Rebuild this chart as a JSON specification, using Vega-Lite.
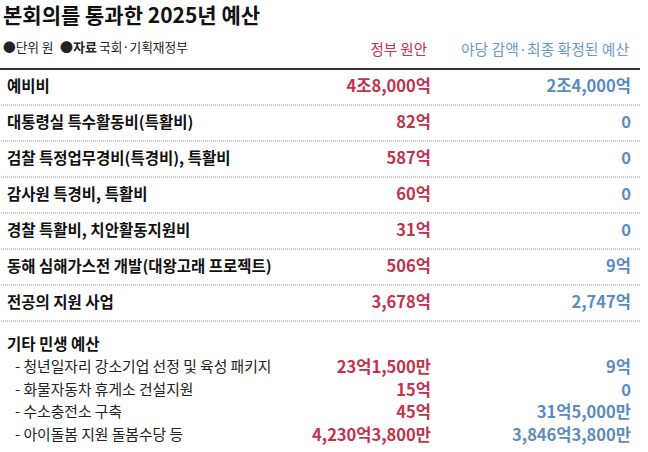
{
  "$schema": "https://vega.github.io/schema/vega-lite/v6.json",
  "width": 640,
  "height": 422,
  "autosize": "none",
  "padding": {"left": 0, "top": 30, "right": 8, "bottom": 0},
  "background": "#ffffff",
  "config": {"view": {"stroke": null}, "font": "Noto Sans CJK KR", "text": {"font": "Noto Sans CJK KR"}},
  "title": {"text": "본회의를 통과한 2025년 예산", "anchor": "start", "fontSize": 21, "font": "Noto Sans CJK KR", "fontWeight": "bold", "color": "#111111", "offset": 3, "dx": 4},
  "layer": [
    {
      "data": {"values": [
        {"item": "header", "gov": "정부 원안", "opp": "야당 감액·최종 확정된 예산", "unit": "●단위  원", "srcLabel": "●자료", "src": "국회·기획재정부"},
        {"item": "예비비", "gov": "4조8,000억", "opp": "2조4,000억"},
        {"item": "대통령실 특수활동비(특활비)", "gov": "82억", "opp": "0"},
        {"item": "검찰 특정업무경비(특경비), 특활비", "gov": "587억", "opp": "0"},
        {"item": "감사원 특경비, 특활비", "gov": "60억", "opp": "0"},
        {"item": "경찰 특활비, 치안활동지원비", "gov": "31억", "opp": "0"},
        {"item": "동해 심해가스전 개발(대왕고래 프로젝트)", "gov": "506억", "opp": "9억"},
        {"item": "전공의 지원 사업", "gov": "3,678억", "opp": "2,747억"}
      ]},
      "encoding": {
        "y": {"field": "item", "type": "ordinal", "sort": null, "axis": null, "scale": {"type": "point", "range": [21, 273], "padding": 0}}
      },
      "layer": [
        {
          "transform": [{"filter": "datum.item === 'header'"}],
          "mark": {"type": "rule", "stroke": "#333333", "strokeWidth": 2, "yOffset": 18},
          "encoding": {}
        },
        {
          "transform": [{"filter": "datum.item !== 'header'"}],
          "mark": {"type": "rule", "stroke": "#8a8a8a", "strokeWidth": 1, "strokeDash": [1, 1], "yOffset": 18},
          "encoding": {}
        },
        {
          "transform": [{"filter": "datum.item !== 'header'"}],
          "mark": {"type": "text", "align": "left", "baseline": "middle", "fontSize": 15.5, "fontWeight": "bold", "color": "#111111"},
          "encoding": {
            "x": {"datum": "label", "type": "ordinal", "axis": null, "scale": {"type": "point", "domain": ["label", "gov", "opp"], "range": [7, 631], "padding": 0}},
            "text": {"field": "item"}
          }
        },
        {
          "transform": [{"filter": "datum.item === 'header'"}],
          "mark": {"type": "text", "align": "left", "baseline": "middle", "fontSize": 12.7, "color": "#222222", "dx": -4, "dy": -3},
          "encoding": {
            "x": {"datum": "label", "type": "ordinal", "axis": null},
            "text": {"field": "unit"}
          }
        },
        {
          "transform": [{"filter": "datum.item === 'header'"}],
          "mark": {"type": "text", "align": "left", "baseline": "middle", "fontSize": 13, "fontWeight": "bold", "color": "#222222", "dx": 53, "dy": -3},
          "encoding": {
            "x": {"datum": "label", "type": "ordinal", "axis": null},
            "text": {"field": "srcLabel"}
          }
        },
        {
          "transform": [{"filter": "datum.item === 'header'"}],
          "mark": {"type": "text", "align": "left", "baseline": "middle", "fontSize": 12.7, "color": "#222222", "dx": 92, "dy": -3},
          "encoding": {
            "x": {"datum": "label", "type": "ordinal", "axis": null},
            "text": {"field": "src"}
          }
        },
        {
          "transform": [{"filter": "datum.item === 'header'"}],
          "mark": {"type": "text", "align": "right", "baseline": "middle", "fontSize": 14.5, "color": "#c0334d", "dx": 108},
          "encoding": {
            "x": {"datum": "gov", "type": "ordinal", "axis": null},
            "text": {"field": "gov"}
          }
        },
        {
          "transform": [{"filter": "datum.item === 'header'"}],
          "mark": {"type": "text", "align": "right", "baseline": "middle", "fontSize": 14.8, "color": "#6b97c9", "dx": -2},
          "encoding": {
            "x": {"datum": "opp", "type": "ordinal", "axis": null},
            "text": {"field": "opp"}
          }
        },
        {
          "transform": [{"filter": "datum.item !== 'header'"}],
          "mark": {"type": "text", "align": "right", "baseline": "middle", "fontSize": 16.5, "fontWeight": "bold", "color": "#c0334d", "dx": 112},
          "encoding": {
            "x": {"datum": "gov", "type": "ordinal", "axis": null},
            "text": {"field": "gov"}
          }
        },
        {
          "transform": [{"filter": "datum.item !== 'header'"}],
          "mark": {"type": "text", "align": "right", "baseline": "middle", "fontSize": 16.5, "fontWeight": "bold", "color": "#5b8bc0"},
          "encoding": {
            "x": {"datum": "opp", "type": "ordinal", "axis": null},
            "text": {"field": "opp"}
          }
        }
      ]
    },
    {
      "data": {"values": [
        {"item": "기타 민생 예산", "kind": "section"},
        {"item": "- 청년일자리 강소기업 선정 및 육성 패키지", "kind": "sub", "gov": "23억1,500만", "opp": "9억"},
        {"item": "- 화물자동차 휴게소 건설지원", "kind": "sub", "gov": "15억", "opp": "0"},
        {"item": "- 수소충전소 구축", "kind": "sub", "gov": "45억", "opp": "31억5,000만"},
        {"item": "- 아이돌봄 지원 돌봄수당 등", "kind": "sub", "gov": "4,230억3,800만", "opp": "3,846억3,800만"}
      ]},
      "encoding": {
        "y": {"field": "item", "type": "ordinal", "sort": null, "axis": null, "scale": {"type": "point", "range": [315, 406], "padding": 0}}
      },
      "layer": [
        {
          "transform": [{"filter": "datum.kind === 'section'"}],
          "mark": {"type": "text", "align": "left", "baseline": "middle", "fontSize": 15.5, "fontWeight": "bold", "color": "#111111"},
          "encoding": {
            "x": {"datum": "label", "type": "ordinal", "axis": null},
            "text": {"field": "item"}
          }
        },
        {
          "transform": [{"filter": "datum.kind === 'sub'"}],
          "mark": {"type": "text", "align": "left", "baseline": "middle", "fontSize": 14.8, "color": "#222222", "dx": 8},
          "encoding": {
            "x": {"datum": "label", "type": "ordinal", "axis": null},
            "text": {"field": "item"}
          }
        },
        {
          "transform": [{"filter": "datum.kind === 'sub'"}],
          "mark": {"type": "text", "align": "right", "baseline": "middle", "fontSize": 16.5, "fontWeight": "bold", "color": "#c0334d", "dx": 112},
          "encoding": {
            "x": {"datum": "gov", "type": "ordinal", "axis": null},
            "text": {"field": "gov"}
          }
        },
        {
          "transform": [{"filter": "datum.kind === 'sub'"}],
          "mark": {"type": "text", "align": "right", "baseline": "middle", "fontSize": 16.5, "fontWeight": "bold", "color": "#5b8bc0"},
          "encoding": {
            "x": {"datum": "opp", "type": "ordinal", "axis": null},
            "text": {"field": "opp"}
          }
        }
      ]
    }
  ],
  "resolve": {"scale": {"y": "independent"}}
}
